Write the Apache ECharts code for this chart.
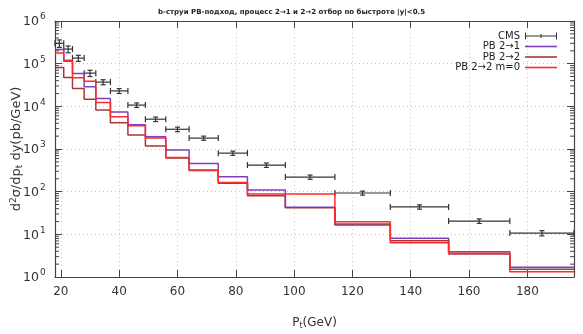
<!DOCTYPE html>
<html>
<head>
<meta charset="utf-8">
<script src="https://cdn.jsdelivr.net/npm/echarts@6/dist/echarts.min.js"></script>
<style>
html, body { margin: 0; padding: 0; background: #fff; }
#chart { width: 583px; height: 334px; }
</style>
</head>
<body>
<div id="chart"></div>
<script>
// pT bin edges (GeV) and CMS points
const binEdges = [18, 21, 24, 28, 32, 37, 43, 49, 56, 64, 74, 84, 97, 114, 133, 153, 174, 196];
const cmsX = [19.5, 22.5, 26, 30, 34.5, 40, 46, 52.5, 60, 69, 79, 90.5, 105.5, 123.5, 143, 163.5, 185];
const cmsValues = [300000, 220000, 135000, 60000, 37000, 23000, 10700, 5000, 2900, 1800, 800, 420, 220, 93, 44, 20.5, 10.7];
const cmsErr = [60000, 40000, 22000, 10000, 5000, 3000, 1300, 600, 350, 200, 90, 50, 25, 10, 5, 2.5, 1.5];

// PB histograms, one value per bin
const pb21 = [215000, 114000, 59000, 28600, 15300, 7400, 3700, 1930, 942, 460, 223, 109, 42.9, 17.4, 8.06, 3.92, 1.69];
const pb22 = [81500, 47500, 26300, 14700, 8150, 4110, 2120, 1170, 612, 312, 157, 80.2, 42, 16.5, 7.08, 3.46, 1.51];
const pb22m0 = [179000, 121000, 46500, 38900, 12300, 5700, 3530, 1800, 629, 321, 163, 87.9, 87.9, 19.7, 6.36, 3.59, 1.33];

const xTicks = [20, 40, 60, 80, 100, 120, 140, 160, 180];
const decades = [1, 10, 100, 1000, 10000, 100000];
const yLabelValues = [1, 10, 100, 1000, 10000, 100000, 1000000];

const axisColor = '#444';
const font = 'DejaVu Sans';

function stepData(values) {
  const d = values.map((v, i) => [binEdges[i], v]);
  d.push([binEdges[binEdges.length - 1], values[values.length - 1]]);
  return d;
}

const cmsData = cmsX.map((x, i) => [x, cmsValues[i], binEdges[i], binEdges[i + 1], cmsErr[i]]);

const minorTicks = [];
decades.forEach(d => { for (let m = 2; m <= 9; m++) minorTicks.push([d * m]); });

function renderErr(params, api) {
  const x = api.value(0), y = api.value(1);
  const lo = api.value(2), hi = api.value(3), e = api.value(4);
  const pL = api.coord([lo, y]), pR = api.coord([hi, y]);
  const pT = api.coord([x, y + e]), pB = api.coord([x, y - e]);
  const c = 3;
  const style = { stroke: '#333', lineWidth: 1.2, fill: null };
  const ln = (x1, y1, x2, y2) => ({ type: 'line', shape: { x1, y1, x2, y2 }, style });
  return {
    type: 'group',
    children: [
      ln(pL[0], pL[1], pR[0], pR[1]),
      ln(pL[0], pL[1] - c, pL[0], pL[1] + c),
      ln(pR[0], pR[1] - c, pR[0], pR[1] + c),
      ln(pT[0], pT[1], pB[0], pB[1]),
      ln(pT[0] - 2.5, pT[1], pT[0] + 2.5, pT[1]),
      ln(pB[0] - 2.5, pB[1], pB[0] + 2.5, pB[1])
    ]
  };
}

function renderMinor(params, api) {
  const v = api.value(0);
  const pl = api.coord([binEdges[0], v]);
  const pr = api.coord([binEdges[binEdges.length - 1], v]);
  const style = { stroke: axisColor, lineWidth: 1 };
  return {
    type: 'group',
    children: [
      { type: 'line', shape: { x1: pl[0], y1: pl[1], x2: pl[0] + 4, y2: pl[1] }, style },
      { type: 'line', shape: { x1: pr[0], y1: pr[1], x2: pr[0] - 4, y2: pr[1] }, style }
    ]
  };
}

// y tick labels as 10 with a raised exponent
function renderYLabel(params, api) {
  const v = api.value(0);
  const p = api.coord([binEdges[0], v]);
  const exp = String(Math.round(Math.log10(v)));
  return {
    type: 'group',
    children: [
      {
        type: 'text', x: p[0] - 16, y: p[1] + 1,
        style: {
          text: '10', fill: '#333', font: '12.5px "DejaVu Sans"',
          align: 'right', verticalAlign: 'middle', textAlign: 'right', textVerticalAlign: 'middle'
        }
      },
      {
        type: 'text', x: p[0] - 15, y: p[1] - 4,
        style: {
          text: exp, fill: '#333', font: '9px "DejaVu Sans"',
          align: 'left', verticalAlign: 'middle', textAlign: 'left', textVerticalAlign: 'middle'
        }
      }
    ]
  };
}

const chart = echarts.init(document.getElementById('chart'), null, { renderer: 'canvas' });

const lineIcon = 'path://M0,0h32v1.6h-32z';

chart.setOption({
  animation: false,
  backgroundColor: '#fff',
  title: {
    text: 'b-струи PB-подход, процесс 2→1 и 2→2 отбор по быстроте |y|<0.5',
    left: 'center',
    top: 4,
    textStyle: { fontSize: 7, fontWeight: 'bold', color: '#222', fontFamily: font }
  },
  legend: {
    orient: 'vertical',
    right: 21,
    top: 26,
    align: 'right',
    itemWidth: 32,
    itemHeight: 8,
    itemGap: 0.5,
    textStyle: { fontSize: 10, lineHeight: 8, color: '#222', fontFamily: font },
    data: [
      { name: 'CMS', icon: 'path://M0,3h32v1h-32z M0,0h1v7h-1z M31,0h1v7h-1z M15.5,1.5h1v4h-1z' },
      { name: 'PB 2→1', icon: lineIcon },
      { name: 'PB 2→2', icon: lineIcon },
      { name: 'PB 2→2 m=0', icon: lineIcon }
    ]
  },
  grid: { left: 55, right: 9, top: 21, bottom: 57, outerBoundsMode: 'none' },
  xAxis: [
    {
      type: 'value',
      min: 18,
      max: 196,
      name: 'P{sub|t}(GeV)',
      nameLocation: 'middle',
      nameGap: 39,
      nameMoveOverlap: false,
      nameTextStyle: {
        fontSize: 12, color: '#333', fontFamily: font,
        rich: { sub: { fontSize: 8, fontFamily: font, color: '#333', verticalAlign: 'bottom', padding: [6, 0, 0, 0] } }
      },
      axisLine: { show: true, lineStyle: { color: axisColor, width: 1.2 } },
      axisTick: { show: true, inside: true, length: 7, customValues: xTicks, lineStyle: { color: axisColor } },
      axisLabel: { customValues: xTicks, fontSize: 12, color: '#333', fontFamily: font, margin: 9 },
      splitLine: { show: true, lineStyle: { color: '#c8c8c8', type: [1, 3] } }
    },
    {
      type: 'value',
      min: 18,
      max: 196,
      position: 'top',
      axisLine: { show: true, lineStyle: { color: axisColor, width: 1.2 } },
      axisTick: { show: true, inside: true, length: 7, customValues: xTicks, lineStyle: { color: axisColor } },
      axisLabel: { show: false },
      splitLine: { show: false }
    }
  ],
  yAxis: [
    {
      type: 'log',
      logBase: 10,
      min: 1,
      max: 1000000,
      name: 'd{sup|2}σ/dp{sub|t} dy(pb/GeV)',
      nameLocation: 'middle',
      nameGap: 31,
      nameMoveOverlap: false,
      nameTextStyle: {
        fontSize: 13, color: '#333', fontFamily: font,
        rich: {
          sup: { fontSize: 9, fontFamily: font, color: '#333', verticalAlign: 'top', padding: [0, 0, 6, 0] },
          sub: { fontSize: 9, fontFamily: font, color: '#333', verticalAlign: 'bottom', padding: [6, 0, 0, 0] }
        }
      },
      axisLine: { show: true, lineStyle: { color: axisColor, width: 1.2 } },
      axisTick: { show: true, inside: true, length: 7, lineStyle: { color: axisColor } },
      axisLabel: { show: false },
      splitLine: { show: true, lineStyle: { color: '#c8c8c8', type: [1, 3] } }
    },
    {
      type: 'log',
      logBase: 10,
      min: 1,
      max: 1000000,
      position: 'right',
      axisLine: { show: true, lineStyle: { color: axisColor, width: 1.2 } },
      axisTick: { show: true, inside: true, length: 7, lineStyle: { color: axisColor } },
      axisLabel: { show: false },
      splitLine: { show: false }
    }
  ],
  series: [
    {
      name: 'minor',
      type: 'custom',
      renderItem: renderMinor,
      data: minorTicks,
      encode: { y: 0 },
      silent: true,
      z: 1
    },
    {
      name: 'ylabels',
      type: 'custom',
      renderItem: renderYLabel,
      data: yLabelValues.map(v => [v]),
      encode: { y: 0 },
      clip: false,
      silent: true,
      z: 1
    },
    {
      name: 'CMS',
      type: 'custom',
      renderItem: renderErr,
      data: cmsData,
      encode: { x: 0, y: 1 },
      itemStyle: { color: '#333' },
      z: 3
    },
    {
      name: 'PB 2→1',
      type: 'line',
      step: 'end',
      symbol: 'none',
      data: stepData(pb21),
      itemStyle: { color: '#7f3fbf' },
      lineStyle: { color: '#7f3fbf', width: 1.5 },
      z: 4
    },
    {
      name: 'PB 2→2',
      type: 'line',
      step: 'end',
      symbol: 'none',
      data: stepData(pb22),
      itemStyle: { color: '#a83838' },
      lineStyle: { color: '#a83838', width: 1.5 },
      z: 5
    },
    {
      name: 'PB 2→2 m=0',
      type: 'line',
      step: 'end',
      symbol: 'none',
      data: stepData(pb22m0),
      itemStyle: { color: '#ff2a2a' },
      lineStyle: { color: '#ff2a2a', width: 1.5 },
      z: 6
    }
  ]
});
</script>
</body>
</html>
